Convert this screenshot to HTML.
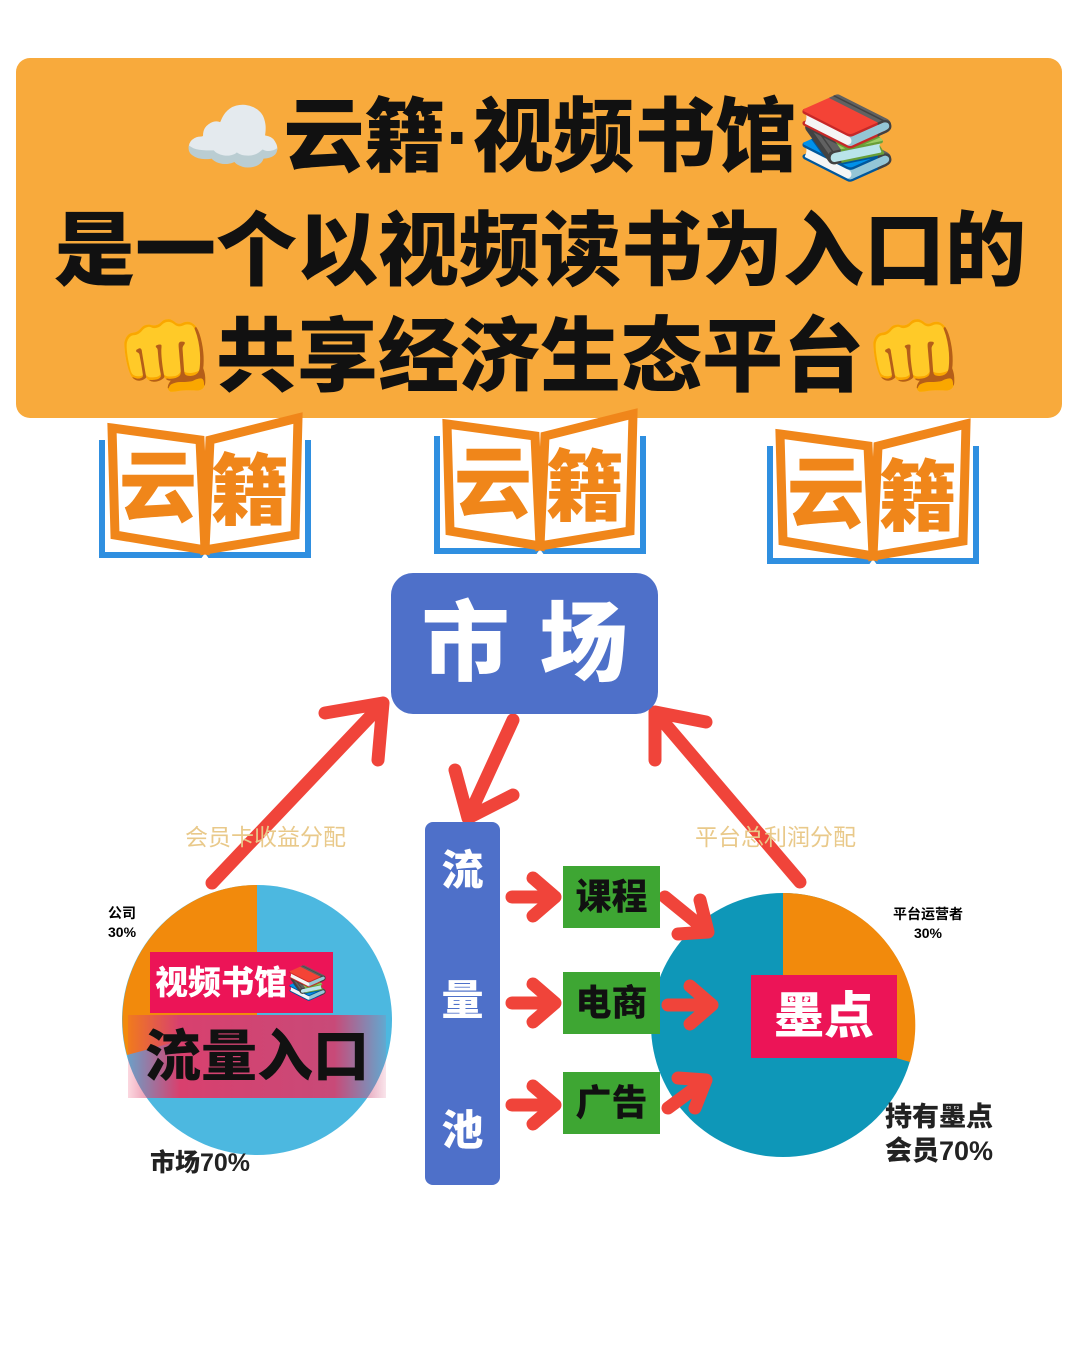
<!DOCTYPE html>
<html><head><meta charset="utf-8"><style>
body{margin:0;width:1080px;height:1359px;background:#fff;position:relative;overflow:hidden;font-family:"Liberation Sans","Noto Sans CJK SC",sans-serif}
.a{position:absolute}
.banner{left:16px;top:58px;width:1046px;height:360px;background:#f8aa3c;border-radius:14px}
.t{position:absolute;left:0;width:1080px;text-align:center;font-weight:900;color:#111;font-size:81px;white-space:nowrap}
.box{background:#4e70c9;color:#fff;font-weight:900;text-align:center}
.g{background:#3ea633;color:#111;font-weight:900;font-size:36px;text-align:center;line-height:62px;width:97px}
</style></head><body>
<div class="a banner"></div>
<div class="t" style="top:72px">☁️云籍·视频书馆📚</div>
<div class="t" style="top:186px">是一个以视频读书为入口的</div>
<div class="t" style="top:292px">👊共享经济生态平台👊</div>

<svg class="a" style="left:0;top:0" width="1080" height="1359">
 <g id="lg">
  <path d="M102 440 V555 H200 L205 548 L210 555 H308 V440" fill="none" stroke="#2f8fe0" stroke-width="6"/>
  <path d="M112 428 L200 440 L205 550 L115 535 Z" fill="#fff" stroke="#f0861a" stroke-width="9"/>
  <path d="M298 418 L210 440 L205 550 L295 535 Z" fill="#fff" stroke="#f0861a" stroke-width="9"/>
  <text x="158" y="515" font-size="78" font-weight="900" fill="#f0861a" text-anchor="middle" font-family="Noto Sans CJK SC">云</text>
  <text x="250" y="518" font-size="78" font-weight="900" fill="#f0861a" text-anchor="middle" font-family="Noto Sans CJK SC">籍</text>
 </g>
 <use href="#lg" x="335" y="-4"/>
 <use href="#lg" x="668" y="6"/>

 <circle cx="257" cy="1020" r="135" fill="#4cb8e0"/>
 <path d="M257 1020 L257 885 A135 135 0 0 0 127 1055 Z" fill="#f28a0c"/>
 <circle cx="783" cy="1025" r="132" fill="#0e97b8"/>
 <path d="M783 1025 L783 893 A132 132 0 0 1 910 1062 Z" fill="#f28a0c"/>

 <g stroke="#f0443a" stroke-width="13" stroke-linecap="round" stroke-linejoin="round" fill="none">
  <path d="M212 883 L383 703 M325 713 L383 703 L378 760"/>
  <path d="M513 720 L468 818 M455 770 L468 818 L513 795"/>
  <path d="M800 882 L655 712 M655 760 L655 712 L706 722"/>
  <path d="M512 897 L555 897 M533 878 L555 897 L533 916"/>
  <path d="M512 1003 L555 1003 M533 984 L555 1003 L533 1022"/>
  <path d="M512 1105 L555 1105 M533 1086 L555 1105 L533 1124"/>
  <path d="M665 897 L708 932 M700 900 L708 932 L678 934"/>
  <path d="M668 1005 L712 1005 M690 986 L712 1005 L690 1024"/>
  <path d="M668 1108 L706 1080 M678 1078 L706 1080 L695 1108"/>
 </g>
</svg>

<div class="a box" style="left:391px;top:573px;width:267px;height:141px;border-radius:22px;font-size:88px;line-height:141px;letter-spacing:30px;text-indent:30px">市场</div>
<div class="a box" style="left:425px;top:822px;width:75px;height:363px;border-radius:8px;font-size:42px;line-height:1">
 <div style="margin-top:28px">流</div><div style="margin-top:88px">量</div><div style="margin-top:88px">池</div></div>
<div class="a g" style="left:563px;top:866px">课程</div>
<div class="a g" style="left:563px;top:972px">电商</div>
<div class="a g" style="left:563px;top:1072px">广告</div>

<div class="a" style="left:185px;top:818px;font-size:23px;color:#e9c98a">会员卡收益分配</div>
<div class="a" style="left:695px;top:818px;font-size:23px;color:#e9c98a">平台总利润分配</div>
<div class="a" style="left:108px;top:904px;font-size:14px;font-weight:700;line-height:19px">公司<br>30%</div>
<div class="a" style="left:893px;top:905px;font-size:14px;font-weight:700;line-height:19px;text-align:center">平台运营者<br>30%</div>
<div class="a" style="left:150px;top:952px;width:183px;height:61px;background:#ec1457;color:#fff;font-weight:900;font-size:33px;line-height:61px;text-align:center">视频书馆📚</div>
<div class="a" style="left:128px;top:1015px;width:258px;height:83px;background:linear-gradient(90deg,rgba(236,60,100,.2),#d8406e 20%,#c84a78 80%,rgba(220,80,120,.15));color:#111;font-weight:900;font-size:56px;line-height:83px;text-align:center">流量入口</div>
<div class="a" style="left:150px;top:1143px;font-size:25px;font-weight:900;color:#222">市场70%</div>
<div class="a" style="left:751px;top:975px;width:146px;height:83px;background:#ec1457;color:#fff;font-weight:900;font-size:50px;line-height:83px;text-align:center">墨点</div>
<div class="a" style="left:885px;top:1100px;font-size:27px;font-weight:900;color:#222;line-height:34px">持有墨点<br>会员70%</div>
</body></html>
